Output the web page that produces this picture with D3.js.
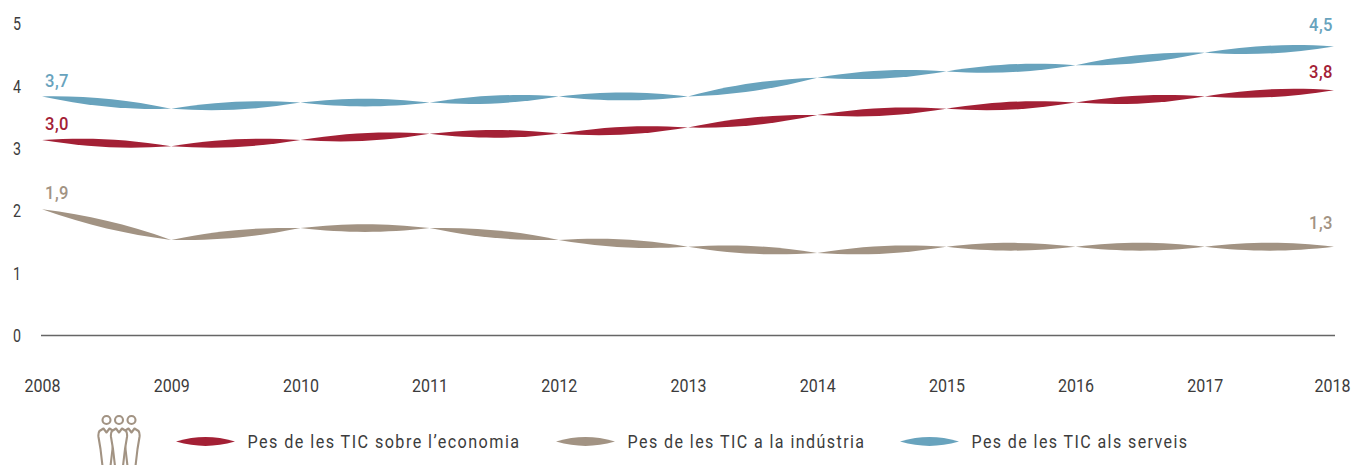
<!DOCTYPE html>
<html lang="ca">
<head>
	<meta charset="utf-8">
	<title>Pes de les TIC</title>
	<script src="https://d3js.org/d3.v7.min.js"></script>
	<style>
		html, body { margin:0; padding:0; background:#fff; }
		svg { display:block; }
		text { font-family:Roboto,sans-serif; }
		.axis path { display:none; }
		.axis text { font-family:Roboto,sans-serif; fill:#3c3c3c; }
		.y-axis text { font-size:17.5px; }
		.x-axis text { font-size:19px; }
		.legend-label { font-size:18px; fill:#3c3c3c; letter-spacing:1.6px; }
		.end-label { font-size:18px; font-weight:500; letter-spacing:0.5px; }
	</style>
</head>
<body>
<svg width="1356" height="465"></svg>
<script>
	var years = [2008,2009,2010,2011,2012,2013,2014,2015,2016,2017,2018];
	var yTicks = [0,1,2,3,4,5];

	// plotted positions
	var economia = [3.14,3.04,3.14,3.24,3.24,3.34,3.54,3.64,3.74,3.84,3.94];
	var industria = [2.03,1.54,1.73,1.73,1.54,1.43,1.33,1.43,1.43,1.43,1.43];
	var serveis = [3.84,3.64,3.74,3.74,3.84,3.84,4.14,4.24,4.34,4.54,4.64];

	var seriesNames = ["Pes de les TIC sobre l’economia","Pes de les TIC a la indústria","Pes de les TIC als serveis"];
	var seriesColors = ["#a32035","#a29383","#68a3bd"];
	var firstLabels = ["3,0","1,9","3,7"];
	var lastLabels = ["3,8","1,3","4,5"];

	var svg = d3.select("svg");

	var x = d3.scalePoint().domain(years).range([42,1334]);
	var y = d3.scaleLinear().domain([0,5]).range([336,24]);

	// a leaf between two points, bulge is half of the thickness
	var leaf = function(x0,y0,x1,y1,bulge) {
		var p = d3.path();
		var c = bulge*4/3;
		var ax = x0+(x1-x0)*0.36, bx = x0+(x1-x0)*0.64;
		var ay = y0+(y1-y0)*0.36, by = y0+(y1-y0)*0.64;
		p.moveTo(x0,y0);
		p.bezierCurveTo(ax,ay-c,bx,by-c,x1,y1);
		p.bezierCurveTo(bx,by+c,ax,ay+c,x0,y0);
		p.closePath();
		return p.toString();
	};

	var yAxis = svg.append("g").attr("class","axis y-axis")
		.attr("transform","translate(42,0)")
		.call(d3.axisLeft(y).tickValues(yTicks).tickFormat(d3.format("d")).tickSize(0).tickPadding(21));
	yAxis.selectAll("text")
		.attr("textLength",8).attr("lengthAdjust","spacingAndGlyphs");

	var xAxis = svg.append("g").attr("class","axis x-axis")
		.attr("transform","translate(0,372.7)")
		.call(d3.axisBottom(x).tickFormat(d3.format("d")).tickSize(0).tickPadding(6));
	xAxis.selectAll("text")
		.attr("textLength",36).attr("lengthAdjust","spacingAndGlyphs")
		.attr("dx",function(d){ return d === 2018 ? -2 : 0; });

	svg.append("line")
		.attr("x1",41).attr("x2",1335)
		.attr("y1",335.5).attr("y2",335.5)
		.attr("stroke","#666").attr("stroke-width",1.4);

	[economia,industria,serveis].forEach(function(values,s) {
		svg.append("g").selectAll("path")
			.data(years.slice(1))
			.enter().append("path")
			.attr("fill",seriesColors[s])
			.attr("d",function(d,i) {
				return leaf(x(years[i]),y(values[i]),x(d),y(values[i+1]),3.9);
			});
	});

	// value labels at both ends
	var firstY = [130,199,87];
	var lastY = [77.5,229,30.5];
	seriesColors.forEach(function(color,s) {
		svg.append("text").attr("class","end-label")
			.attr("x",45).attr("y",firstY[s])
			.attr("textLength",24).attr("lengthAdjust","spacingAndGlyphs")
			.attr("fill",color).text(firstLabels[s]);
		svg.append("text").attr("class","end-label")
			.attr("x",1309).attr("y",lastY[s])
			.attr("textLength",24).attr("lengthAdjust","spacingAndGlyphs")
			.attr("fill",color).text(lastLabels[s]);
	});

	// legend
	var legendLeaf = [176,556,900];
	var legendText = [247.5,627.5,971.5];
	var legendWidth = [273,238,217];
	var legend = svg.append("g").selectAll("g")
		.data(seriesNames)
		.enter().append("g");
	legend.append("path")
		.attr("fill",function(d,i){ return seriesColors[i]; })
		.attr("d",function(d,i){ return leaf(legendLeaf[i],441.5,legendLeaf[i]+59,441.5,4.4); });
	legend.append("text").attr("class","legend-label")
		.attr("x",function(d,i){ return legendText[i]; })
		.attr("y",448)
		.attr("textLength",function(d,i){ return legendWidth[i]; })
		.attr("lengthAdjust","spacingAndGlyphs")
		.text(function(d){ return d; });

	// people icon
	var icon = svg.append("g")
		.attr("fill","#fff").attr("stroke","#a29383").attr("stroke-width",2.1)
		.attr("stroke-linejoin","round");
	[106.5,131.5,119].forEach(function(cx) {
		icon.append("circle").attr("cx",cx).attr("cy",420).attr("r",4);
		icon.append("path").attr("d",
			"M"+(cx-3)+",428.5 L"+cx+",432.5 L"+(cx+3)+",428.5 L"+(cx+7)+",431 Q"+(cx+8.5)+",433 "+(cx+8)+",437"
			+" L"+(cx+6)+",449 L"+(cx+4)+",466 H"+(cx-4)
			+" L"+(cx-6)+",449 L"+(cx-8)+",437 Q"+(cx-8.5)+",433 "+(cx-7)+",431 Z");
	});
</script>
</body>
</html>
